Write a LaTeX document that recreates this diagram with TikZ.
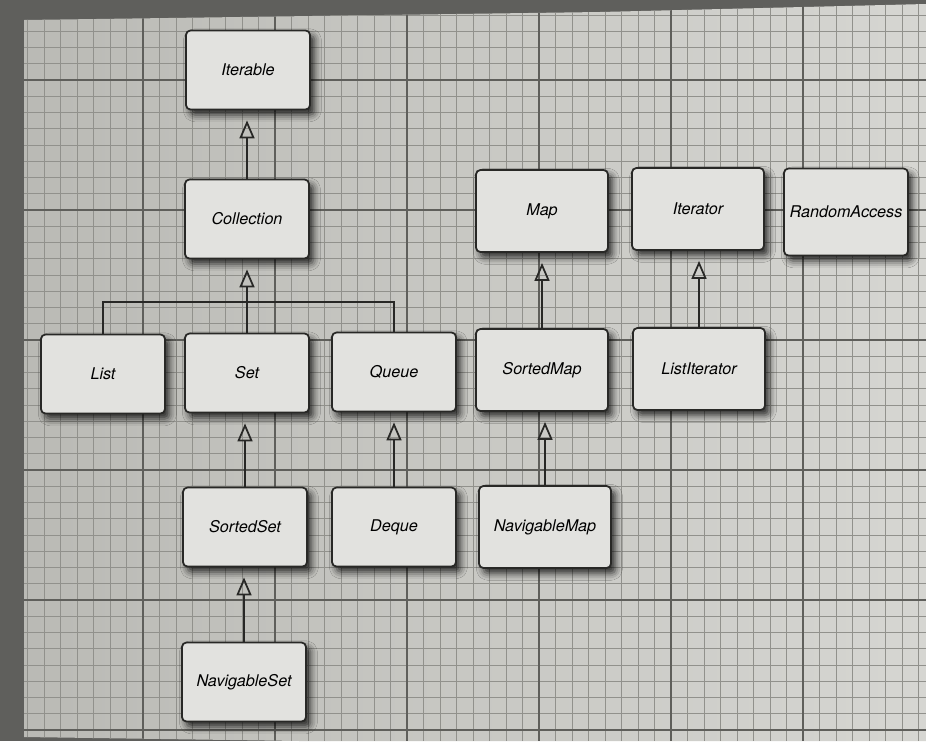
\documentclass[tikz,border=0pt]{standalone}
\usepackage{fontspec}
\setsansfont{TeX Gyre Heros}
\usetikzlibrary{arrows.meta,shadows.blur}
\definecolor{frame}{RGB}{95,95,92}
\definecolor{paperdark}{RGB}{186,186,181}
\definecolor{paperlight}{RGB}{214,214,210}
\definecolor{gridminor}{RGB}{145,145,140}
\definecolor{gridmajor}{RGB}{95,95,91}
\definecolor{boxfill}{RGB}{226,226,223}
\definecolor{edge}{RGB}{40,40,38}
\tikzset{
  iface/.style={draw=edge, line width=1pt, fill=boxfill, rounded corners=2.5pt,
    minimum width=2.48cm, minimum height=1.58cm, inner xsep=2pt,
    font=\sffamily\itshape\fontsize{9.2}{11}\selectfont,
    blur shadow={shadow xshift=2.5pt, shadow yshift=-3pt, shadow blur radius=4pt, shadow opacity=80}},
  widebox/.style={iface, minimum width=2.64cm, minimum height=1.64cm},
  inherit/.style={edge, line width=1pt, -{Triangle[open, length=0.36cm, width=0.3cm, line width=1pt]}, shorten >=0.2cm},
  minor/.style={gridminor, line width=0.35pt},
  major/.style={gridmajor, line width=0.75pt}
}

\begin{document}
\begin{tikzpicture}[x=0.02cm, y=-0.02cm]
\useasboundingbox (0,0) rectangle (926,741);
% page and grid
\fill[frame] (0,0) rectangle (926,741);
\shade[left color=paperdark, right color=paperlight] (24,20) -- (600,12) -- (926,4) -- (926,741) -- (300,741) -- (24,737) -- cycle;
\begin{scope}
\clip (24,20) -- (600,12) -- (926,4) -- (926,741) -- (300,741) -- (24,737) -- cycle;
\foreach \i in {1,...,56} \draw[minor] ({11+\i*16.5},0) -- ({11+\i*16.5},741);
\foreach \j in {-4,...,40} \draw[minor] (0,{80+\j*16.25}) -- (926,{80+\j*16.25});
\foreach \i in {0,...,6} \draw[major] ({11+\i*132},0) -- ({11+\i*132},741);
\foreach \j in {-1,...,5} \draw[major] (0,{80+\j*130}) -- (926,{80+\j*130});
\end{scope}

% interfaces
\node[iface] (iterable) at (248,70) {Iterable};
\node[iface] (collection) at (247,219) {Collection};
\node[iface] (list) at (103,374) {List};
\node[iface] (set) at (247,373) {Set};
\node[iface] (queue) at (394,372) {Queue};
\node[widebox] (sortedmap) at (542,370) {SortedMap};
\node[widebox] (listiterator) at (699,369) {ListIterator};
\node[widebox] (map) at (542,211) {Map};
\node[widebox] (iterator) at (698,209) {Iterator};
\node[iface, minimum height=1.74cm] (randomaccess) at (846,212) {RandomAccess};
\node[iface] (sortedset) at (245,527) {SortedSet};
\node[iface] (deque) at (394,527) {Deque};
\node[widebox] (navigablemap) at (545,527) {NavigableMap};
\node[iface] (navigableset) at (244,682) {NavigableSet};

% inheritance
\coordinate (join) at (247,302);
\draw[inherit] (collection.north) -- (collection.north |- iterable.south);
\draw[inherit] (set.north) -- (set.north |- collection.south);
\draw[edge, line width=1pt] (list.north) |- (join) -| (queue.north);
\draw[inherit] (sortedmap.north) -- (sortedmap.north |- map.south);
\draw[inherit] (listiterator.north) -- (listiterator.north |- iterator.south);
\draw[inherit] (sortedset.north) -- (sortedset.north |- set.south);
\draw[inherit] (deque.north) -- (deque.north |- queue.south);
\draw[inherit] (navigablemap.north) -- (navigablemap.north |- sortedmap.south);
\draw[inherit] (navigableset.north) -- (navigableset.north |- sortedset.south);
\end{tikzpicture}
\end{document}
